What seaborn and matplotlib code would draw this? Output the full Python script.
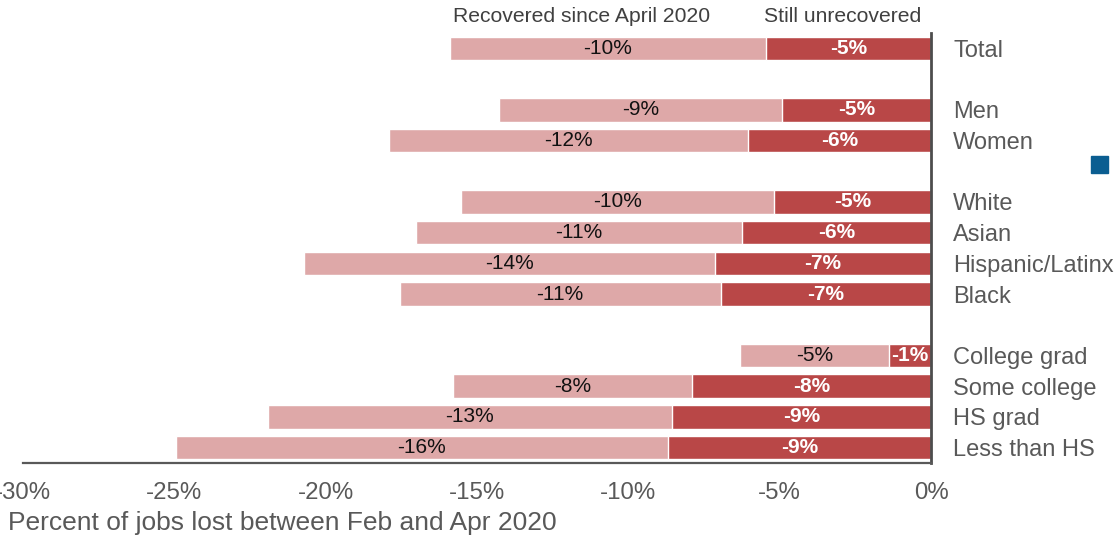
import matplotlib
matplotlib.use("Agg")
import matplotlib.pyplot as plt
import matplotlib.patches as mpatches
import seaborn as sns
import pandas as pd

# Job losses between Feb and Apr 2020, split into the part recovered since
# April 2020 and the part still unrecovered (percent of jobs).
groups = ["Total", "Men", "Women", "White", "Asian", "Hispanic/Latinx", "Black",
          "College grad", "Some college", "HS grad", "Less than HS"]
recovered = [10.45, 9.34, 11.85, 10.34, 10.79, 13.58, 10.60, 4.93, 7.90, 13.37, 16.28]
unrecovered = [5.45, 4.93, 6.06, 5.20, 6.23, 7.15, 6.95, 1.39, 7.89, 8.55, 8.68]
xticks = [-30, -25, -20, -15, -10, -5, 0]

# Row order, with blank rows separating the groupings
row_order = ["Total", "_s1", "Men", "Women", "_s2", "White", "Asian",
             "Hispanic/Latinx", "Black", "_s3", "College grad", "Some college",
             "HS grad", "Less than HS"]

LIGHT = "#dea8a8"
DARK = "#b94747"
GREY = "#595959"

df = pd.DataFrame({"group": groups, "recovered": recovered, "unrecovered": unrecovered})
df["total_lost"] = -(df["recovered"] + df["unrecovered"])
df["still_lost"] = -df["unrecovered"]

sns.set_theme(style="white")
plt.rcParams["font.family"] = ["Liberation Sans", "DejaVu Sans"]

fig = plt.figure(figsize=(11.16, 5.38), dpi=100)
ax = fig.add_axes([23 / 1116, 1 - 463 / 538, (931 - 23) / 1116, (463 - 33) / 538])

sns.barplot(data=df, x="total_lost", y="group", order=row_order, orient="h",
            color=LIGHT, saturation=1, width=0.77, ax=ax)
sns.barplot(data=df, x="still_lost", y="group", order=row_order, orient="h",
            color=DARK, saturation=1, width=0.77, ax=ax)

# Value labels centred in each segment
for _, r in df.iterrows():
    yi = row_order.index(r["group"])
    left = r["total_lost"]
    mid = r["still_lost"]
    ax.text((left + mid) / 2, yi, f"-{r['recovered']:.0f}%", ha="center", va="center",
            fontsize=15, color="#111111")
    ax.text(mid / 2, yi, f"-{r['unrecovered']:.0f}%", ha="center", va="center",
            fontsize=15, color="white", fontweight="bold")

ax.set_xlim(-30, 0)
ax.set_ylim(len(row_order) - 0.5, -0.5)
ax.set_xticks(xticks)
ax.set_xticklabels([f"{t}%" for t in xticks])
ax.tick_params(axis="x", length=0, pad=14, labelsize=17.3, labelcolor=GREY)

ax.yaxis.tick_right()
ticks = [row_order.index(g) for g in groups]
ax.set_yticks(ticks)
ax.set_yticklabels(groups)
ax.tick_params(axis="y", length=0, pad=16, labelsize=17, labelcolor=GREY)
ax.set_xlabel("")
ax.set_ylabel("")

for s in ("left", "top"):
    ax.spines[s].set_visible(False)
ax.spines["bottom"].set_color(GREY)
ax.spines["bottom"].set_linewidth(1.6)
ax.spines["right"].set_color("#4d4d4d")
ax.spines["right"].set_linewidth(2)

# Column headers
fig.text(582 / 1116, 1 - 17 / 538, "Recovered since April 2020", ha="center", va="center",
         fontsize=15.2, color="#404040")
fig.text(843 / 1116, 1 - 17 / 538, "Still unrecovered", ha="center", va="center",
         fontsize=15.2, color="#404040")

fig.text(8 / 1116, 1 - 523 / 538, "Percent of jobs lost between Feb and Apr 2020",
         ha="left", va="center", fontsize=19, color=GREY)

fig.patches.append(mpatches.Rectangle((1091 / 1116, 1 - 173 / 538), 17 / 1116, 17 / 538,
                                      transform=fig.transFigure, color="#0b5e91"))

fig.savefig("out.png", dpi=100)
